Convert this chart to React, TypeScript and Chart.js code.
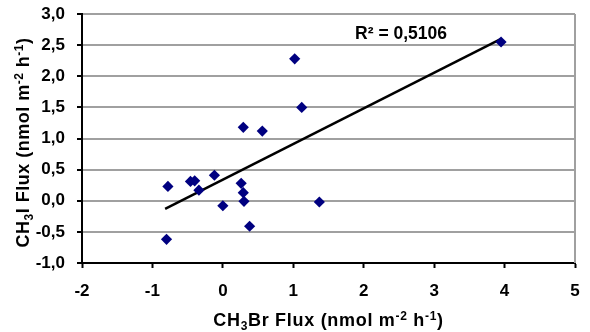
import React, { useEffect, useRef } from 'react';
import { Chart, registerables } from 'chart.js';

Chart.register(...registerables);

// CH3Br flux (x) and CH3I flux (y), nmol m-2 h-1
const ch3brFlux = [-0.8, -0.78, -0.46, -0.4, -0.34, -0.12, 0.0, 0.26, 0.29, 0.3, 0.38, 0.29, 0.56, 1.02, 1.12, 1.37, 3.95];
const ch3iFlux = [-0.62, 0.23, 0.31, 0.32, 0.17, 0.41, -0.08, 0.28, 0.13, -0.01, -0.41, 1.18, 1.12, 2.28, 1.5, -0.02, 2.55];

// Linear trend line end points
const trendX = [-0.82, 3.95];
const trendY = [-0.13, 2.6];

const rSquaredText = 'R² = 0,5106';
const xAxisTitle = [
  { t: 'CH', k: 'n' },
  { t: '3', k: 'sub' },
  { t: 'Br Flux (nmol m', k: 'n' },
  { t: '-2', k: 'sup' },
  { t: ' h', k: 'n' },
  { t: '-1', k: 'sup' },
  { t: ')', k: 'n' },
];
const yAxisTitle = [
  { t: 'CH', k: 'n' },
  { t: '3', k: 'sub' },
  { t: 'I Flux (nmol m', k: 'n' },
  { t: '-2', k: 'sup' },
  { t: ' h', k: 'n' },
  { t: '-1', k: 'sup' },
  { t: ')', k: 'n' },
];

const FONT = '"Liberation Sans", Arial, sans-serif';

function drawRich(
  ctx: CanvasRenderingContext2D,
  segs: { t: string; k: string }[],
  cx: number,
  cy: number,
  size: number,
  spacing: number
) {
  const small = Math.round(size * 0.66);
  const fontFor = (k: string) => `bold ${k === 'n' ? size : small}px ${FONT}`;
  (ctx as any).letterSpacing = `${spacing}px`;
  let total = 0;
  const widths = segs.map((s) => {
    ctx.font = fontFor(s.k);
    const w = ctx.measureText(s.t).width;
    total += w;
    return w;
  });
  let x = cx - total / 2;
  ctx.textAlign = 'left';
  ctx.textBaseline = 'alphabetic';
  const base = cy + size * 0.36;
  segs.forEach((s, i) => {
    ctx.font = fontFor(s.k);
    let y = base;
    if (s.k === 'sub') y = base + size * 0.2;
    if (s.k === 'sup') y = base - size * 0.38;
    ctx.fillText(s.t, x, y);
    x += widths[i];
  });
  (ctx as any).letterSpacing = '0px';
}

const decorPlugin = {
  id: 'decor',
  afterDraw(chart: any) {
    const { ctx, chartArea, scales } = chart;
    ctx.save();
    // right border
    ctx.strokeStyle = '#a0a0a0';
    ctx.lineWidth = 2;
    ctx.beginPath();
    ctx.moveTo(chartArea.right, chartArea.top);
    ctx.lineTo(chartArea.right, chartArea.bottom);
    ctx.stroke();
    ctx.fillStyle = '#000';
    // R² label
    ctx.font = `bold 17.5px ${FONT}`;
    ctx.textAlign = 'center';
    ctx.textBaseline = 'middle';
    ctx.fillText(rSquaredText, scales.x.getPixelForValue(2.53), scales.y.getPixelForValue(2.675));
    // x title
    drawRich(ctx, xAxisTitle, (chartArea.left + chartArea.right) / 2, chartArea.bottom + 57, 18, 0.7);
    // y title
    ctx.translate(chartArea.left - 59, (chartArea.top + chartArea.bottom) / 2 + 4);
    ctx.rotate(-Math.PI / 2);
    drawRich(ctx, yAxisTitle, 0, 0, 18, 0.5);
    ctx.restore();
  },
};

export default function App() {
  const ref = useRef<HTMLCanvasElement>(null);
  useEffect(() => {
    if (!ref.current) return;
    const chart = new Chart(ref.current, {
      type: 'scatter',
      data: {
        datasets: [
          {
            label: 'Flux',
            data: ch3brFlux.map((x, i) => ({ x, y: ch3iFlux[i] })),
            pointStyle: 'rectRot',
            pointRadius: 5.6,
            backgroundColor: '#000080',
            borderColor: '#000080',
            borderWidth: 0,
          },
          {
            label: 'Trend',
            type: 'line',
            data: trendX.map((x, i) => ({ x, y: trendY[i] })),
            borderColor: '#000',
            borderWidth: 2.5,
            pointRadius: 0,
            showLine: true,
          } as any,
        ],
      },
      options: {
        responsive: false,
        animation: false,
        layout: { padding: { top: 14, right: 15, left: 0, bottom: 0 } },
        plugins: { legend: { display: false }, tooltip: { enabled: false } },
        scales: {
          x: {
            type: 'linear',
            min: -2,
            max: 5,
            ticks: { stepSize: 1, color: '#000', font: { family: FONT, size: 17, weight: 'bold' }, padding: 13 },
            grid: { drawOnChartArea: false, drawTicks: true, tickLength: 5, tickColor: '#000', tickWidth: 2 },
            border: { color: '#000', width: 2 },
            afterFit: (s: any) => {
              s.height = 69;
              s.paddingLeft = 0;
              s.paddingRight = 0;
            },
          },
          y: {
            type: 'linear',
            min: -1,
            max: 3,
            ticks: {
              stepSize: 0.5,
              color: '#000',
              font: { family: FONT, size: 17, weight: 'bold' },
              padding: 12,
              callback: (v: any) => Number(v).toFixed(1).replace('.', ','),
            },
            grid: { color: '#a0a0a0', lineWidth: 2, tickLength: 5, tickColor: '#000', tickWidth: 2 },
            border: { color: '#000', width: 2 },
            afterFit: (s: any) => {
              s.width = 82;
              s.paddingTop = 0;
              s.paddingBottom = 0;
            },
          },
        },
      },
      plugins: [decorPlugin],
    });
    return () => chart.destroy();
  }, []);
  return (
    <div style={{ position: 'fixed', left: 0, top: 0, width: 590, height: 332, background: '#fff' }}>
      <canvas ref={ref} width={590} height={332} style={{ display: 'block' }} />
    </div>
  );
}
